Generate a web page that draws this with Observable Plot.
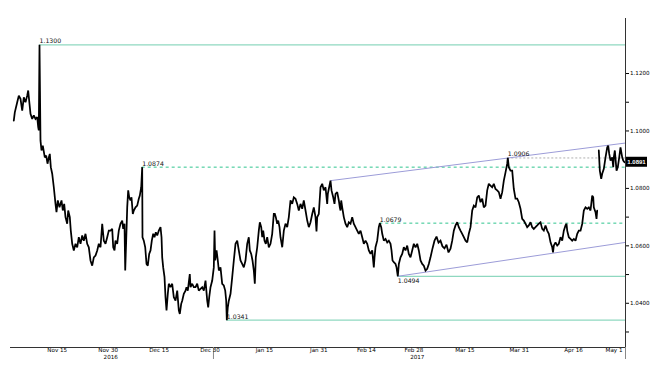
<!DOCTYPE html>
<html><head><meta charset="utf-8">
<script src="https://cdn.jsdelivr.net/npm/d3@7"></script>
<script src="https://cdn.jsdelivr.net/npm/@observablehq/plot@0.6"></script>
<style>body{margin:0;background:#fff} svg{display:block}</style>
</head><body><div id="chart"></div>
<script>
// EUR/USD, days since 2016-11-01 (UTC) and rate
const seriesDays = [1.22,1.52,2.23,2.70,3.20,3.70,4.17,4.67,5.17,5.46,5.85,6.14,6.64,7.11,7.61,8.11,8.41,8.58,8.79,9.08,9.38,9.76,10.35,10.76,11.15,11.53,11.82,12.12,12.53,13.00,13.50,13.79,14.18,14.68,15.27,15.65,16.06,16.44,16.94,17.24,17.71,18.00,18.42,18.89,19.39,19.89,20.36,20.86,21.36,21.83,22.33,22.83,23.30,23.80,24.30,24.78,25.28,25.78,26.25,26.75,27.25,27.72,28.22,28.72,29.19,
29.69,30.19,30.49,30.87,31.16,31.66,32.13,32.63,33.14,33.43,33.81,34.02,34.31,34.61,34.90,35.20,35.58,35.87,36.26,36.55,37.05,37.55,38.02,38.32,38.73,39.02,39.11,39.49,39.91,40.29,40.67,41.08,41.47,41.85,42.26,42.64,43.03,43.44,43.91,44.41,44.71,44.91,45.20,45.59,45.88,46.18,46.56,46.85,47.35,47.85,48.33,48.83,49.33,49.80,50.09,50.50,50.80,51.27,51.77,52.06,52.45,53.03,53.24,53.74,54.21,54.71,55.21,55.68,56.18,56.69,57.16,57.66,58.16,58.45,58.75,59.13,59.63,60.10,60.31,60.51,60.91,61.28,61.58,62.07,62.57,63.04,63.46,63.75,63.93,64.22,64.52,65.02,65.52,65.99,66.49,66.99,67.46,67.96,68.46,68.93,69.43,69.93,70.40,70.70,71.11,71.49,71.88,72.17,72.47,72.88,73.35,73.65,74.06,74.35,74.64,75.03,75.41,75.82,76.29,76.79,77.29,77.76,78.06,78.35,78.76,79.06,79.44,79.73,80.24,80.71,81.21,81.71,82.18,82.68,83.18,83.65,84.15,84.65,85.12,85.62,86.12,86.59,87.10,87.60,88.07,88.57,89.07,89.54,90.04,90.33,90.54,91.01,91.51,92.01,92.48,92.98,93.48,93.66,93.95,94.45,
94.75,95.25,95.63,95.93,96.43,96.90,97.19,97.40,97.60,97.90,98.37,98.87,99.37,99.84,100.34,100.84,101.31,101.81,102.31,102.79,103.29,103.79,104.26,104.76,105.26,105.73,106.23,106.73,107.20,107.41,107.70,108.20,108.67,108.97,109.38,109.68,110.15,110.65,111.15,111.62,112.12,112.41,112.71,113.09,113.59,113.89,114.27,114.57,115.06,115.56,116.03,116.53,117.03,117.50,118.00,118.50,118.98,119.48,119.98,120.45,120.95,121.45,121.92,122.42,122.92,123.39,123.89,
124.48,125.07,125.66,126.25,126.83,127.42,128.01,128.60,129.19,129.78,130.28,130.75,131.25,131.75,132.22,132.72,133.22,133.70,134.20,134.70,135.17,135.67,136.17,136.64,137.14,137.64,138.11,138.61,139.11,139.58,140.08,140.58,141.05,141.55,142.05,142.52,143.02,143.52,144.00,144.50,145.00,145.47,145.97,146.47,146.64,146.94,147.44,147.94,148.41,148.91,149.41,149.88,150.38,150.88,151.35,151.85,152.35,152.83,153.33,153.83,154.30,154.80,155.30,155.77,156.27,156.77,157.24,157.74,158.24,158.72,159.22,159.72,159.95,160.19,160.69,161.19,161.66,162.16,162.66,163.13,163.63,163.93,164.13,164.60,165.10,165.60,166.08,166.58,167.08,167.55,168.05,168.55,169.02,169.52,170.02,170.49,170.99,171.49,171.79,171.96,172.46,172.76,172.96,173.20,
173.43,173.73,174.14,174.43,174.91,175.41,175.91,176.20,176.50,176.88,177.38,177.68,177.85,178.15,178.65,179.03,179.44,179.82,180.32,180.62,181.00];
const seriesRates = [1.1036,1.1065,1.1100,1.1123,1.1112,1.1071,1.1117,1.1100,1.1123,1.1141,1.1094,1.1060,1.1042,1.1054,1.1042,1.1048,1.1013,1.1002,1.1300,1.0967,1.0932,1.0949,1.0908,1.0914,1.0886,1.0908,1.0920,1.0874,1.0851,1.0804,1.0746,1.0717,1.0758,1.0734,1.0758,1.0723,1.0746,1.0700,1.0677,1.0723,1.0700,1.0653,1.0607,1.0584,1.0607,1.0595,1.0630,1.0607,1.0636,1.0618,1.0642,1.0607,1.0595,1.0549,1.0531,1.0560,1.0566,1.0584,1.0607,1.0595,1.0677,1.0618,1.0607,1.0630,1.0653,
1.0653,1.0659,1.0595,1.0584,1.0618,1.0607,1.0653,1.0677,1.0688,1.0659,1.0677,1.0514,1.0618,1.0734,1.0793,1.0769,1.0758,1.0769,1.0711,1.0723,1.0734,1.0740,1.0764,1.0775,1.0804,1.0874,1.0630,1.0618,1.0595,1.0537,1.0531,1.0572,1.0584,1.0618,1.0642,1.0630,1.0647,1.0636,1.0653,1.0665,1.0630,1.0560,1.0525,1.0491,1.0421,1.0375,1.0433,1.0468,1.0456,1.0468,1.0421,1.0409,1.0444,1.0375,1.0363,1.0398,1.0409,1.0433,1.0444,1.0456,1.0444,1.0502,1.0456,1.0468,1.0456,1.0456,1.0468,1.0444,1.0450,1.0456,1.0444,1.0479,1.0409,1.0386,1.0421,1.0456,1.0479,1.0525,1.0653,1.0549,1.0584,1.0549,1.0514,1.0525,1.0468,1.0462,1.0444,1.0409,1.0341,1.0386,1.0409,1.0433,1.0491,1.0549,1.0607,1.0618,1.0584,1.0549,1.0537,1.0525,1.0549,1.0607,1.0630,1.0584,1.0572,1.0549,1.0514,1.0468,1.0560,1.0595,1.0653,1.0682,1.0665,1.0630,1.0653,1.0618,1.0607,1.0630,1.0595,1.0607,1.0642,1.0711,1.0711,1.0700,1.0677,1.0688,1.0665,1.0630,1.0595,1.0653,1.0677,1.0665,1.0700,1.0758,1.0746,1.0769,1.0764,1.0746,1.0723,1.0746,1.0729,1.0758,1.0723,1.0688,1.0665,1.0682,1.0711,1.0734,1.0700,1.0650,1.0700,1.0711,1.0804,1.0816,1.0793,1.0804,1.0746,1.0781,1.0798,1.0827,
1.0793,1.0769,1.0746,1.0781,1.0787,1.0758,1.0734,1.0723,1.0758,1.0734,1.0700,1.0677,1.0665,1.0682,1.0677,1.0700,1.0677,1.0665,1.0653,1.0642,1.0653,1.0630,1.0607,1.0618,1.0607,1.0584,1.0572,1.0584,1.0525,1.0560,1.0595,1.0618,1.0665,1.0679,1.0665,1.0642,1.0618,1.0624,1.0612,1.0618,1.0607,1.0584,1.0549,1.0543,1.0537,1.0525,1.0494,1.0537,1.0560,1.0572,1.0595,1.0584,1.0601,1.0572,1.0560,1.0584,1.0607,1.0595,1.0607,1.0584,1.0549,1.0537,1.0531,1.0514,1.0520,1.0537,1.0560,
1.0591,1.0618,1.0632,1.0611,1.0618,1.0598,1.0591,1.0604,1.0577,1.0590,1.0618,1.0653,1.0671,1.0682,1.0665,1.0653,1.0642,1.0630,1.0618,1.0612,1.0642,1.0665,1.0723,1.0740,1.0734,1.0769,1.0775,1.0752,1.0764,1.0734,1.0740,1.0793,1.0816,1.0810,1.0804,1.0816,1.0798,1.0793,1.0787,1.0764,1.0787,1.0827,1.0856,1.0886,1.0906,1.0874,1.0862,1.0862,1.0798,1.0764,1.0764,1.0752,1.0729,1.0694,1.0688,1.0677,1.0665,1.0671,1.0682,1.0665,1.0659,1.0665,1.0671,1.0677,1.0682,1.0659,1.0653,1.0671,1.0653,1.0642,1.0612,1.0595,1.0577,1.0601,1.0612,1.0601,1.0607,1.0630,1.0618,1.0653,1.0671,1.0677,1.0653,1.0630,1.0624,1.0618,1.0624,1.0618,1.0642,1.0653,1.0653,1.0677,1.0723,1.0734,1.0729,1.0734,1.0723,1.0775,1.0769,1.0734,1.0717,1.0694,1.0723,null,
1.0932,1.0862,1.0833,1.0851,1.0868,1.0908,1.0943,1.0949,1.0920,1.0897,1.0908,1.0874,1.0908,1.0932,1.0862,1.0874,1.0908,1.0943,1.0908,1.0897,1.0891];

// Support / resistance levels and where they start
const levelValues = [1.1300, 1.0874, 1.0341, 1.0679, 1.0494, 1.0906];
const levelStartDays = [8.79, 39.02, 63.93, 108.97, 114.27, 146.64];
// Trend channel
const trendFromDays = [94.45, 114.27];
const trendFromRates = [1.0827, 1.0494];
const trendToDays = [181.29, 181.29];
const trendToRates = [1.0958, 1.0612];
// Axis ticks
const xTickDates = ["2016-11-15","2016-11-30","2016-12-15","2016-12-30","2017-01-15","2017-01-31","2017-02-14","2017-02-28","2017-03-15","2017-03-31","2017-04-16","2017-05-01"];
const xTickLabels = ["Nov 15","Nov 30","Dec 15","Dec 30","Jan 15","Jan 31","Feb 14","Feb 28","Mar 15","Mar 31","Apr 16","May 1"];
const yearDates = ["2016-11-30T18:00Z","2017-03-01"];
const yearLabels = ["2016","2017"];
const yMajorTicks = [1.04, 1.06, 1.08, 1.10, 1.12];
const yMinorTicks = [1.03, 1.05, 1.07, 1.09, 1.11];
const lastRate = 1.0891;
const domainDays = [0.253, 181.29];
const yDomain = [1.0246, 1.13916];

const origin = Date.UTC(2016, 10, 1);
const toDate = d => new Date(origin + d * 864e5);
const series = seriesDays.map((d, i) => ({date: toDate(d), rate: seriesRates[i]}));
const endDate = toDate(domainDays[1]);
const levels = levelValues.map((v, i) => ({value: v, start: toDate(levelStartDays[i]), i}));
const trends = trendFromDays.map((d, i) => ({x1: toDate(d), y1: trendFromRates[i], x2: toDate(trendToDays[i]), y2: trendToRates[i]}));
const xTicks = xTickDates.map((s, i) => ({date: new Date(s), label: xTickLabels[i]}));
const years = yearDates.map((s, i) => ({date: new Date(s), label: yearLabels[i]}));

const solidIdx = [0, 2, 4], dashedIdx = [1, 3], greyIdx = [5];
const pick = idx => levels.filter(l => idx.includes(l.i));

const chart = Plot.plot({
  width: 660, height: 371,
  marginLeft: 10, marginRight: 35, marginTop: 18, marginBottom: 24,
  style: {fontFamily: "DejaVu Sans, sans-serif", fontSize: "5.6px", background: "#fff", color: "#000"},
  x: {type: "utc", domain: domainDays.map(toDate)},
  y: {domain: yDomain},
  marks: [
    Plot.ruleY(pick(solidIdx), {y: "value", x1: "start", x2: () => endDate, stroke: "#8fd8c0", strokeWidth: 1.2}),
    Plot.ruleY(pick(dashedIdx), {y: "value", x1: "start", x2: () => endDate, stroke: "#2fc48e", strokeWidth: 1, strokeDasharray: "3,3"}),
    Plot.ruleY(pick(greyIdx), {y: "value", x1: "start", x2: () => endDate, stroke: "#9a9a9a", strokeWidth: 0.8, strokeDasharray: "2,2"}),
    Plot.link(trends, {x1: "x1", y1: "y1", x2: "x2", y2: "y2", stroke: "#9c9cd8", strokeWidth: 1}),
    Plot.lineY(series, {x: "date", y: "rate", stroke: "#000", strokeWidth: 1.75, strokeLinejoin: "miter", strokeMiterlimit: 2}),
    Plot.text(levels.filter(l => l.i !== 4), {x: "start", y: "value", text: d => d.value.toFixed(4), textAnchor: "start", dy: -3.5, fontSize: 6.2, fill: "#111"}),
    Plot.text(levels.filter(l => l.i === 4), {x: "start", y: "value", text: d => d.value.toFixed(4), textAnchor: "start", dy: 4.5, fontSize: 6.2, fill: "#111"}),
    Plot.ruleX([endDate], {stroke: "#333", strokeWidth: 1}),
    Plot.ruleY([yDomain[0]], {stroke: "#333", strokeWidth: 1}),
    Plot.axisY({anchor: "right", ticks: yMajorTicks, tickSize: 3, tickPadding: 1.5, tickFormat: d => d.toFixed(4), label: null, fill: "#000"}),
    Plot.axisY({anchor: "right", ticks: yMinorTicks, tickSize: 3, tickFormat: () => "", label: null}),
    Plot.axisX({ticks: [new Date("2016-12-31"), endDate], tickSize: 12, tickFormat: () => "", label: null, stroke: "#888"}),
    Plot.text(xTicks.slice(0, -1), {x: "date", text: "label", frameAnchor: "bottom", dy: 4.5, textAnchor: "middle", fill: "#000"}),
    Plot.text(xTicks.slice(-1), {x: "date", text: "label", frameAnchor: "bottom", dy: 4.5, textAnchor: "end", dx: -2, fill: "#000"}),
    Plot.text(years, {x: "date", text: "label", frameAnchor: "bottom", dy: 11, textAnchor: "middle", fill: "#000"})
  ]
});

document.getElementById("chart").append(chart);

// last-price tag on the right axis, positioned by the plot's own scales
const ys = chart.scale("y"), xs = chart.scale("x");
const svg = d3.select(chart);
const cy = ys.apply(lastRate), cx = xs.apply(endDate);
const g = svg.append("g");
g.append("rect").attr("x", cx + 1).attr("y", cy - 5).attr("width", 21).attr("height", 10).attr("fill", "#000");
g.append("text").attr("x", cx + 11.5).attr("y", cy).attr("dy", "0.35em").attr("text-anchor", "middle")
  .attr("fill", "#fff").attr("font-size", "6px").attr("font-family", "Liberation Sans, Arial, sans-serif").attr("font-weight", "bold").text(lastRate.toFixed(4));
</script>
</body></html>
